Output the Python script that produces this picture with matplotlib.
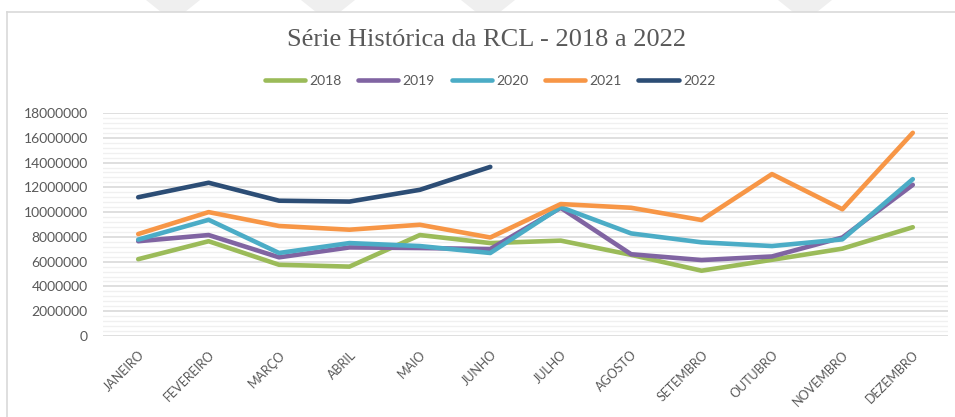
import numpy as np
import matplotlib
matplotlib.use('Agg')
import matplotlib.pyplot as plt
from matplotlib.patches import Polygon
from matplotlib.lines import Line2D
from matplotlib.ticker import MultipleLocator

meses = ['JANEIRO', 'FEVEREIRO', 'MARÇO', 'ABRIL', 'MAIO', 'JUNHO',
         'JULHO', 'AGOSTO', 'SETEMBRO', 'OUTUBRO', 'NOVEMBRO', 'DEZEMBRO']

rcl_2018 = [6200000, 7650000, 5750000, 5600000, 8150000, 7500000,
            7700000, 6550000, 5270000, 6150000, 7050000, 8780000]
rcl_2019 = [7650000, 8150000, 6350000, 7150000, 7100000, 7020000,
            10350000, 6600000, 6130000, 6420000, 7950000, 12200000]
rcl_2020 = [7780000, 9380000, 6700000, 7500000, 7260000, 6700000,
            10400000, 8280000, 7560000, 7260000, 7800000, 12660000]
rcl_2021 = [8230000, 10000000, 8880000, 8580000, 8980000, 7950000,
            10650000, 10350000, 9360000, 13070000, 10230000, 16400000]
rcl_2022 = [11200000, 12370000, 10920000, 10850000, 11800000, 13650000]

series = [('2018', rcl_2018, '#9BBB59'),
          ('2019', rcl_2019, '#8064A2'),
          ('2020', rcl_2020, '#4BACC6'),
          ('2021', rcl_2021, '#F79646'),
          ('2022', rcl_2022, '#2C4D75')]

W, H = 955, 417
cinza = '#595959'
plt.rcParams['font.family'] = ['Lato', 'DejaVu Sans']

fig = plt.figure(figsize=(W / 100, H / 100), dpi=100)
ax = fig.add_axes([103 / W, 1 - 336 / H, (948 - 103) / W, (336 - 113) / H])

# marca d'agua no topo
for c in [173, 328, 488, 805]:
    pts = [(c - 27, 0), (c + 27, 0), (c + 12, 12), (c - 12, 12)]
    pts = [(x / W, 1 - y / H) for x, y in pts]
    fig.add_artist(Polygon(pts, closed=True, transform=fig.transFigure,
                           facecolor='#EFEFEF', edgecolor='none', zorder=0))

# borda da area do grafico
fig.add_artist(Line2D([7 / W, 1.0], [1 - 12 / H, 1 - 12 / H], transform=fig.transFigure,
                      color='#D9D9D9', lw=1.2))
fig.add_artist(Line2D([7 / W, 7 / W], [0, 1 - 12 / H], transform=fig.transFigure,
                      color='#D9D9D9', lw=1.2))

x = np.arange(len(meses))
for nome, valores, cor in series:
    ax.plot(x[:len(valores)], valores, color=cor, lw=3.3, label=nome,
            solid_capstyle='round', solid_joinstyle='round', zorder=3)

ax.set_xlim(-0.5, 11.5)
ax.set_ylim(0, 18000000)
ax.yaxis.set_major_locator(MultipleLocator(2000000))
ax.yaxis.set_minor_locator(MultipleLocator(400000))
ax.grid(which='major', axis='y', color='#D9D9D9', lw=1.2, zorder=1)
ax.grid(which='minor', axis='y', color='#F0F0F0', lw=1.0, zorder=0)
for s in ax.spines.values():
    s.set_visible(False)

ax.set_xticks(x)
ax.set_xticklabels(meses, rotation=45, ha='right', rotation_mode='anchor')
ax.tick_params(axis='x', length=0, pad=9, labelsize=9, labelcolor=cinza)
ax.tick_params(axis='y', which='both', length=0, pad=11, labelsize=10, labelcolor=cinza)
ax.yaxis.set_major_formatter(matplotlib.ticker.FuncFormatter(lambda v, p: f'{int(v)}'))

fig.text(487 / W, 1 - 40 / H, 'Série Histórica da RCL - 2018 a 2022',
         ha='center', va='center', fontsize=19, color=cinza,
         family=['Liberation Serif', 'DejaVu Serif'])

leg = fig.legend(loc='center', bbox_to_anchor=(490 / W, 1 - 81 / H), ncol=5,
                 frameon=False, fontsize=10, handlelength=2.9, handletextpad=0.3,
                 columnspacing=1.2)
for t in leg.get_texts():
    t.set_color(cinza)
for h in leg.legend_handles:
    h.set_linewidth(3.3)

fig.savefig('out.png', dpi=100)
